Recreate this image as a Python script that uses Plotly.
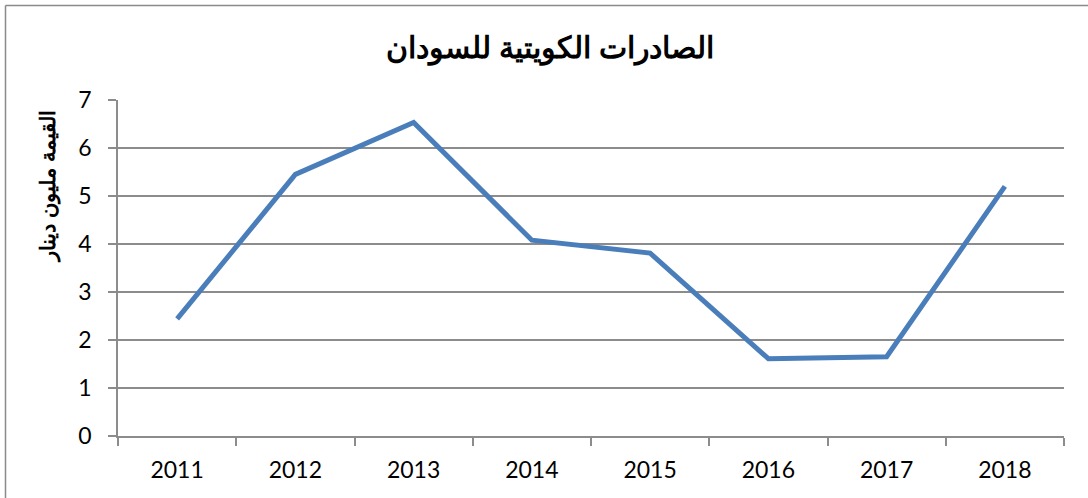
import plotly.graph_objects as go

years = ["2011", "2012", "2013", "2014", "2015", "2016", "2017", "2018"]
values = [2.44, 5.45, 6.53, 4.08, 3.81, 1.61, 1.65, 5.2]
y_ticks = [0, 1, 2, 3, 4, 5, 6, 7]
title_text = "الصادرات الكويتية للسودان"
y_title = "القيمة مليون دينار"

W, H = 1088, 498
L, R, T, B = 118, 1064, 100, 436
pw, ph = R - L, B - T

def px(x):
    return (x - L) / pw

def py(y):
    return (B - y) / ph

fig = go.Figure()
fig.add_trace(go.Scatter(
    x=years, y=values, mode="lines",
    line=dict(color="#4a7ebb", width=5),
    hoverinfo="skip", showlegend=False,
))

grid = "#8c8c8c"
fig.update_layout(
    width=W, height=H,
    margin=dict(l=L, r=W - R, t=T, b=H - B, pad=0, autoexpand=False),
    paper_bgcolor="white", plot_bgcolor="white",
    title=dict(text="<b>" + title_text + "</b>", x=550 / W, xanchor="center",
               y=1 - 47 / H, yanchor="middle",
               font=dict(family="Liberation Sans", size=30, color="black")),
    xaxis=dict(type="category", range=[-0.5, len(years) - 0.5], automargin=False,
               showgrid=False, showline=True, linecolor=grid, linewidth=1.5,
               ticks="outside", tickson="boundaries", ticklen=8, tickcolor=grid, tickwidth=1.5,
               tickfont=dict(family="Lato", size=23, color="black"), ticklabelstandoff=13),
    yaxis=dict(range=[0, 7], tickvals=y_ticks, automargin=False,
               showgrid=True, gridcolor=grid, gridwidth=1.5,
               showline=True, linecolor=grid, linewidth=1.5, zeroline=False,
               ticks="outside", ticklen=8, tickcolor=grid, tickwidth=1.5,
               tickfont=dict(family="Lato", size=23, color="black"), ticklabelstandoff=12),
    annotations=[dict(text="<b>" + y_title + "</b>", xref="paper", yref="paper",
                      x=px(48), y=py(187), xanchor="center", yanchor="middle",
                      textangle=-90, showarrow=False,
                      font=dict(family="Liberation Sans", size=21, color="black"))],
    shapes=[
        dict(type="line", xref="paper", yref="paper", x0=px(5.5), x1=px(5.5),
             y0=py(5.5), y1=py(520), line=dict(color="#8a8a8a", width=1.5)),
        dict(type="line", xref="paper", yref="paper", x0=px(5.5), x1=px(1110),
             y0=py(5.5), y1=py(5.5), line=dict(color="#8a8a8a", width=1.5)),
    ],
)

fig.write_html("out.html", config={"displayModeBar": False},
               post_script="document.body.style.margin='0';document.body.style.overflow='hidden';")
